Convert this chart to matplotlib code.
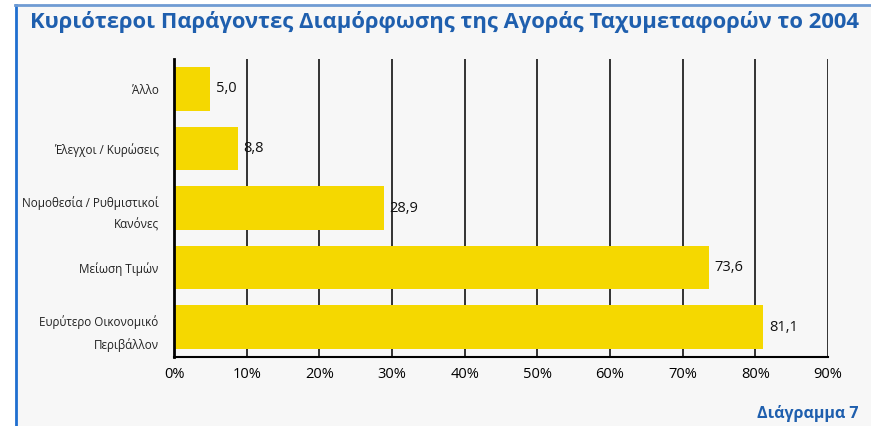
"""Horizontal bar chart: main factors shaping the courier market in 2004."""
import matplotlib
matplotlib.use("Agg")
import matplotlib.pyplot as plt
from matplotlib.lines import Line2D

plt.rcParams["font.family"] = ["Open Sans", "DejaVu Sans"]

categories = ["Άλλο", "Έλεγχοι / Κυρώσεις", "Νομοθεσία / Ρυθμιστικοί\nΚανόνες",
              "Μείωση Τιμών", "Ευρύτερο Οικονομικό\nΠεριβάλλον"]
values = [5.0, 8.8, 28.9, 73.6, 81.1]
xticks = [0, 10, 20, 30, 40, 50, 60, 70, 80, 90]

TITLE = "Κυριότεροι Παράγοντες Διαμόρφωσης της Αγοράς Ταχυμεταφορών το 2004"
FOOTER = "Διάγραμμα 7"
BLUE = "#1f5fae"
BG = "#f7f7f7"
YELLOW = "#f5d800"

W, H = 871, 426
fig = plt.figure(figsize=(W / 100, H / 100), dpi=100)
fig.patch.set_facecolor("white")

# light gray panel with blue frame (left + top)
panel = plt.Rectangle((15 / W, 0), 1 - 15 / W, 1 - 5 / H, transform=fig.transFigure,
                      facecolor=BG, edgecolor="none", zorder=-10)
fig.patches.append(panel)
fig.lines.append(Line2D([15.5 / W, 15.5 / W], [0, 1 - 5 / H], transform=fig.transFigure,
                        color="#1f6fd0", lw=2))
fig.lines.append(Line2D([15 / W, 1], [1 - 5 / H, 1 - 5 / H], transform=fig.transFigure,
                        color="#6f9bd3", lw=2))

ax = fig.add_axes([174 / W, (H - 357) / H, (828 - 174) / W, (357 - 59) / H])
ax.set_facecolor(BG)

ypos = list(range(len(categories)))
ax.barh(ypos, values, height=0.73, color=YELLOW, zorder=3)
for y, v in zip(ypos, values):
    ax.text(v + 0.75, y, f"{v:.1f}".replace(".", ","), va="center", ha="left",
            fontsize=10.5, color="#111111", zorder=4)

ax.set_xlim(0, 90)
ax.set_ylim(len(categories) - 0.5, -0.5)
ax.set_xticks(xticks)
ax.set_xticklabels([f"{t}%" for t in xticks], fontsize=10.5)
ax.set_yticks(ypos)
ax.set_yticklabels(categories, fontsize=8.4, linespacing=1.85, color="#222222")
ax.tick_params(axis="y", length=0, pad=11)
ax.tick_params(axis="x", length=0, pad=7)
ax.grid(axis="x", color="#111111", lw=1.2, zorder=1)
for s in ["top", "right"]:
    ax.spines[s].set_visible(False)
ax.spines["left"].set_linewidth(2)
ax.spines["bottom"].set_linewidth(1.5)
ax.spines["left"].set_zorder(5)

fig.text(30 / W, 1 - 22 / H, TITLE, ha="left", va="center", fontsize=15.8,
         fontweight="bold", color=BLUE)
fig.text(858 / W, 1 - 413 / H, FOOTER, ha="right", va="center", fontsize=11.5,
         fontweight="bold", color=BLUE)

fig.savefig("out.png", dpi=100, facecolor=fig.get_facecolor())
